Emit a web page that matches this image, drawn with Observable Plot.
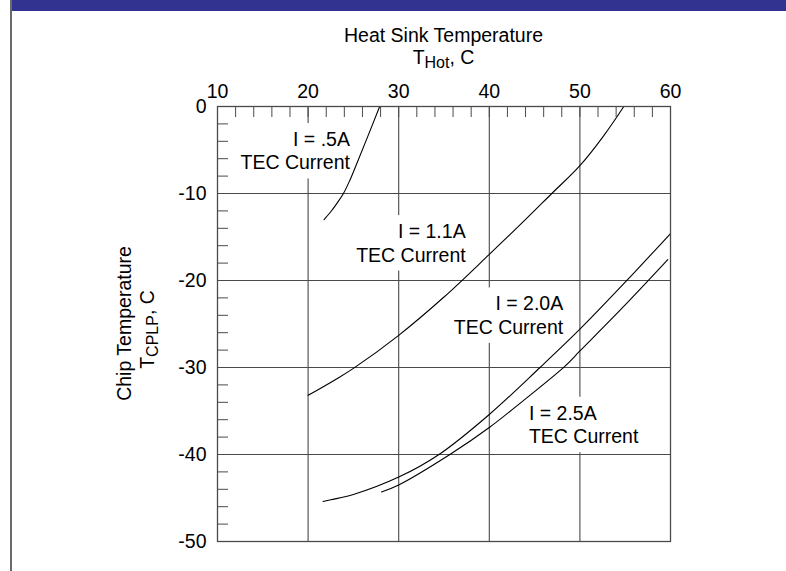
<!DOCTYPE html>
<html><head><meta charset="utf-8">
<script src="https://cdn.jsdelivr.net/npm/d3@7"></script>
<script src="https://cdn.jsdelivr.net/npm/@observablehq/plot@0.6"></script>
<style>
html,body{margin:0;padding:0;background:#fff;}
#wrap{position:relative;width:786px;height:571px;overflow:hidden;}
#bar{position:absolute;left:12px;top:0;width:774px;height:11px;background:#323391;}
#edge{position:absolute;left:10px;top:0;width:2px;height:571px;background:#6a6a6a;}
#wrap svg{position:absolute;left:0;top:0;}
</style></head><body>
<div id="wrap"><div id="bar"></div><div id="edge"></div></div>
<script>
// Tick values
const xMajor = [10, 20, 30, 40, 50, 60];
const yMajor = [0, -10, -20, -30, -40, -50];
const xMinor = [10, 12, 14, 16, 18, 20, 22, 24, 26, 28, 30, 32, 34, 36, 38, 40, 42, 44, 46, 48, 50, 52, 54, 56, 58, 60];
const yMinor = [0, -2, -4, -6, -8, -10, -12, -14, -16, -18, -20, -22, -24, -26, -28, -30, -32, -34, -36, -38, -40, -42, -44, -46, -48, -50];
const xGrid = [20, 30, 40, 50];
const yGrid = [-10, -20, -30, -40];

// Series: heat sink temperature (THot, C) vs chip temperature (TCPLP, C)
const hot05  = [21.76, 22.5, 23.2, 23.9, 24.6, 25.4, 26.6, 27.9];
const chip05 = [-13.0, -12.1, -11.1, -10.0, -8.5, -6.5, -3.4, 0];
const hot11  = [20, 23, 25, 30, 35, 40, 43.5, 46.9, 50, 52.6, 54.85];
const chip11 = [-33.2, -31.4, -30.1, -26.3, -21.9, -17.0, -13.5, -10.0, -6.8, -3.4, 0];
const hot20  = [21.65, 22.5, 25, 30, 34.45, 40, 45.6, 50, 55, 60];
const chip20 = [-45.4, -45.2, -44.6, -42.6, -40.0, -35.4, -30.0, -25.6, -20.2, -14.6];
const hot25  = [28.1, 30, 35.65, 40, 44, 48.3, 50, 55, 59.7];
const chip25 = [-44.3, -43.5, -40.0, -36.9, -33.6, -29.9, -28.1, -22.8, -17.6];

// Curve labels
const labelText = ["I = .5A\nTEC Current", "I = 1.1A\nTEC Current", "I = 2.0A\nTEC Current", "I = 2.5A\nTEC Current"];
const labelX = [24.62, 37.39, 48.16, 44.37];
const labelY = [-7.24, -17.82, -26.13, -38.70];
const labelAnchor = ["end", "end", "end", "start"];

const series = [
  ["0.5A", hot05, chip05], ["1.1A", hot11, chip11], ["2.0A", hot20, chip20], ["2.5A", hot25, chip25]
];
const lineData = series.flatMap(([name, xs, ys]) => xs.map((x, i) => ({name, hot: x, chip: ys[i]})));
const labels = labelText.map((t, i) => ({text: t, x: labelX[i], y: labelY[i], anchor: labelAnchor[i]}));

const W = 786, H = 571;
const mL = 217, mR = 116, mT = 106, mB = 30;
const FONT = "'Liberation Sans', Arial, Helvetica, sans-serif";
const FS = 19.5;
const grey = "#4a4a4a";

const labelOpts = {x: "x", y: "y", text: "text", lineAnchor: "bottom", lineHeight: 1.2, fontSize: FS, fill: "#000"};

const chart = Plot.plot({
  width: W, height: H,
  marginLeft: mL, marginRight: mR, marginTop: mT, marginBottom: mB,
  style: {fontFamily: FONT, fontSize: FS + "px", color: "#000", background: "transparent", overflow: "visible"},
  x: {domain: [10, 60], label: null},
  y: {domain: [-50, 0], label: null},
  marks: [
    Plot.ruleX(xGrid, {stroke: grey, strokeWidth: 1.1}),
    Plot.ruleY(yGrid, {stroke: grey, strokeWidth: 1.1}),
    Plot.text(labels.filter(d => d.anchor === "end"), {...labelOpts, textAnchor: "end"}),
    Plot.text(labels.filter(d => d.anchor === "start"), {...labelOpts, textAnchor: "start"}),
    Plot.line(lineData, {x: "hot", y: "chip", z: "name", curve: "catmull-rom", stroke: "#000", strokeWidth: 1.1}),
    Plot.axisX({anchor: "top", ticks: xMinor, tickSize: -10, tickFormat: () => "", stroke: grey, label: null}),
    Plot.axisY({anchor: "left", ticks: yMinor, tickSize: -11, tickFormat: () => "", stroke: grey, label: null}),
    Plot.axisX({anchor: "top", ticks: xMajor, tickSize: 0, tickPadding: 9, tickFormat: d => String(d), fontSize: FS, label: null}),
    Plot.axisY({anchor: "left", ticks: yMajor, tickSize: 0, tickPadding: 11, tickFormat: d => String(d), fontSize: FS, label: null}),
    Plot.frame({stroke: grey, strokeWidth: 1.3})
  ]
});

document.getElementById("wrap").appendChild(chart);

// White boxes behind curve labels (hide gridlines like the original)
const svg = d3.select(chart);
svg.selectAll("text").filter(function () { return this.textContent.includes("TEC Current"); }).each(function () {
  const b = this.getBBox();
  const padX = 4, padY = 5;
  const r = document.createElementNS("http://www.w3.org/2000/svg", "rect");
  r.setAttribute("x", b.x - padX);
  r.setAttribute("y", b.y - padY);
  r.setAttribute("width", b.width + 2 * padX);
  r.setAttribute("height", b.height + 2 * padY);
  r.setAttribute("fill", "#fff");
  r.setAttribute("stroke", "none");
  const tr = this.getAttribute("transform");
  if (tr) r.setAttribute("transform", tr);
  this.parentNode.insertBefore(r, this);
});

// Axis titles with subscripts
const cx = (mL + (W - mR)) / 2;
const cy = (mT + (H - mB)) / 2;
svg.append("text").attr("x", cx).attr("y", 41.5).attr("text-anchor", "middle")
  .attr("font-family", FONT).attr("font-size", FS).attr("fill", "#000").text("Heat Sink Temperature");
const t2 = svg.append("text").attr("x", cx).attr("y", 63.5).attr("text-anchor", "middle")
  .attr("font-family", FONT).attr("font-size", FS).attr("fill", "#000");
t2.append("tspan").text("T");
t2.append("tspan").attr("font-size", 16).attr("dy", 4).text("Hot");
t2.append("tspan").attr("dy", -4).text(", C");

const g = svg.append("g").attr("transform", `translate(0,${cy}) rotate(-90)`)
  .attr("font-family", FONT).attr("font-size", FS).attr("fill", "#000").attr("text-anchor", "middle");
g.append("text").attr("x", 0).attr("y", 130.5).text("Chip Temperature");
const t4 = g.append("text").attr("x", -6).attr("y", 153.5);
t4.append("tspan").text("T");
t4.append("tspan").attr("font-size", 16).attr("dy", 4).text("CPLP");
t4.append("tspan").attr("dy", -4).text(", C");
</script>
</body></html>
